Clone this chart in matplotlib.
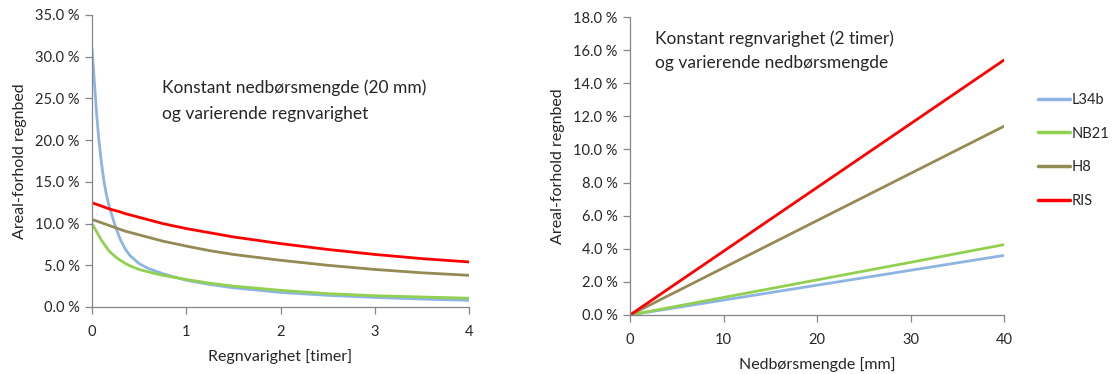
import matplotlib
matplotlib.use("Agg")
import matplotlib.pyplot as plt
from matplotlib.ticker import FuncFormatter

plt.rcParams['font.family'] = ['Lato', 'DejaVu Sans']

# Left chart: constant precipitation (20 mm), varying duration [hours]
duration = [0, 0.025, 0.05, 0.075, 0.1, 0.125, 0.15, 0.175, 0.2, 0.25, 0.3, 0.35,
            0.4, 0.5, 0.6, 0.75, 1, 1.25, 1.5, 2, 2.5, 3, 3.5, 4]
left_L34b = [31.0, 27.0, 23.0, 19.8, 17.3, 15.2, 13.6, 12.4, 11.4, 9.6, 8.1, 7.0,
             6.2, 5.2, 4.6, 4.0, 3.2, 2.7, 2.3, 1.75, 1.4, 1.15, 0.95, 0.8]
left_NB21 = [10.0, 9.5, 9.0, 8.5, 8.0, 7.6, 7.2, 6.8, 6.5, 6.0, 5.6, 5.25,
             4.95, 4.5, 4.2, 3.8, 3.3, 2.85, 2.5, 2.0, 1.6, 1.35, 1.2, 1.05]
left_H8 = [10.5, 10.4, 10.3, 10.2, 10.1, 10.0, 9.9, 9.8, 9.7, 9.5, 9.3, 9.1,
           8.95, 8.65, 8.35, 7.9, 7.3, 6.75, 6.3, 5.6, 5.0, 4.5, 4.1, 3.8]
left_RIS = [12.5, 12.4, 12.3, 12.2, 12.1, 12.0, 11.9, 11.8, 11.7, 11.55, 11.4, 11.2,
            11.05, 10.75, 10.45, 10.0, 9.4, 8.9, 8.4, 7.6, 6.9, 6.3, 5.8, 5.4]

# Right chart: constant duration (2 h), varying precipitation [mm]
precip = [0, 10, 20, 30, 40]
right_L34b = [0.0, 0.9, 1.8, 2.7, 3.6]
right_NB21 = [0.0, 1.06, 2.12, 3.18, 4.25]
right_H8 = [0.0, 2.85, 5.7, 8.55, 11.4]
right_RIS = [0.0, 3.85, 7.7, 11.55, 15.4]

series_names = ['L34b', 'NB21', 'H8', 'RIS']
colors = ['#8EB4E3', '#92D050', '#948A54', '#FF0000']

W, H = 1115, 374
fig = plt.figure(figsize=(W / 100, H / 100), dpi=100)

def axes_px(x0, x1, ytop, ybot):
    return fig.add_axes([x0 / W, (H - ybot) / H, (x1 - x0) / W, (ybot - ytop) / H])

axL = axes_px(92, 469, 15, 307)
axR = axes_px(630, 1004, 17, 315)

tick_color = '#868686'
text_color = '#262626'
fs_tick = 10.5
fs_label = 11.5
fs_note = 12.5

def style(ax):
    for s in ['top', 'right']:
        ax.spines[s].set_visible(False)
    for s in ['left', 'bottom']:
        ax.spines[s].set_color(tick_color)
        ax.spines[s].set_linewidth(0.9)
    ax.tick_params(axis='both', colors=tick_color, labelcolor=text_color,
                   labelsize=fs_tick, length=5, width=0.9, direction='out')
    ax.tick_params(axis='x', pad=8)
    ax.tick_params(axis='y', pad=4)
    ax.yaxis.set_major_formatter(FuncFormatter(lambda v, p: f"{v:.1f} %"))

left_data = [left_L34b, left_NB21, left_H8, left_RIS]
right_data = [right_L34b, right_NB21, right_H8, right_RIS]

for name, c, ys in zip(series_names, colors, left_data):
    axL.plot(duration, ys, color=c, lw=2.0, solid_capstyle='round', solid_joinstyle='round')
for name, c, ys in zip(series_names, colors, right_data):
    axR.plot(precip, ys, color=c, lw=2.0, label=name, solid_capstyle='round')

axL.set_xlim(0, 4)
axL.set_ylim(0, 35)
axL.set_xticks([0, 1, 2, 3, 4])
axL.set_yticks([0, 5, 10, 15, 20, 25, 30, 35])
style(axL)
axL.set_xlabel('Regnvarighet [timer]', fontsize=fs_label, color=text_color, labelpad=7)
axL.set_ylabel('Areal-forhold regnbed', fontsize=fs_label, color=text_color, labelpad=6)
axL.text(162 / W, (H - 101) / H, 'Konstant nedbørsmengde (20 mm)\nog varierende regnvarighet',
         transform=fig.transFigure, fontsize=fs_note, color=text_color,
         va='center', ha='left', linespacing=1.75)

axR.set_xlim(0, 40)
axR.set_ylim(0, 18)
axR.set_xticks([0, 10, 20, 30, 40])
axR.set_yticks([0, 2, 4, 6, 8, 10, 12, 14, 16, 18])
style(axR)
axR.set_xlabel('Nedbørsmengde [mm]', fontsize=fs_label, color=text_color, labelpad=7)
axR.set_ylabel('Areal-forhold regnbed', fontsize=fs_label, color=text_color, labelpad=6)
axR.text(655 / W, (H - 51) / H, 'Konstant regnvarighet (2 timer)\nog varierende nedbørsmengde',
         transform=fig.transFigure, fontsize=fs_note, color=text_color,
         va='center', ha='left', linespacing=1.6)

leg = fig.legend(*axR.get_legend_handles_labels(), loc='upper left',
                 bbox_to_anchor=(1032 / W, (H - 87) / H), frameon=False,
                 fontsize=fs_tick, handlelength=2.2, handletextpad=0.15,
                 labelspacing=1.35, borderaxespad=0)
for t in leg.get_texts():
    t.set_color(text_color)
for l in leg.get_lines():
    l.set_linewidth(2.5)

fig.savefig('out.png', dpi=100, facecolor='white')
